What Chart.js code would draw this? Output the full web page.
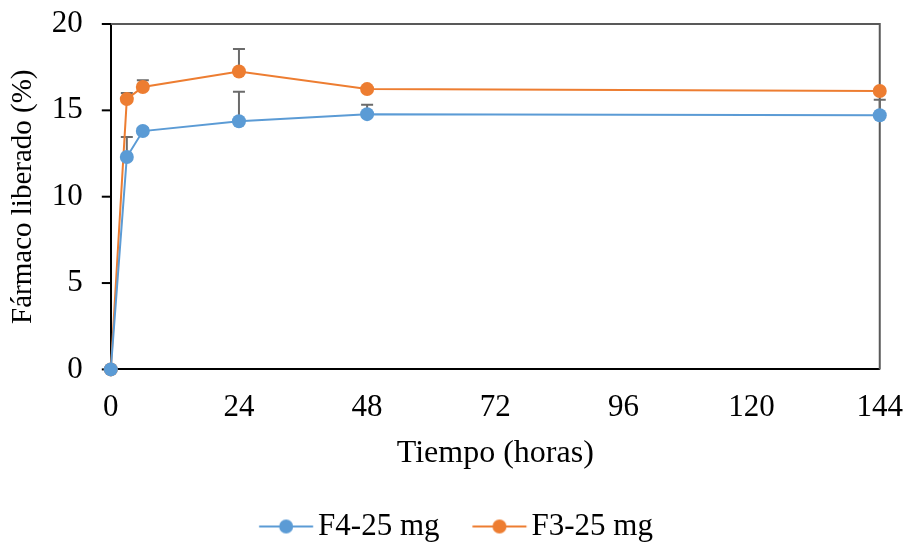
<!DOCTYPE html>
<html>
<head>
<meta charset="utf-8">
<script src="https://cdn.jsdelivr.net/npm/chart.js@4"></script>
<style>
  html, body { margin: 0; padding: 0; background: #fff; }
  #wrap { width: 906px; height: 544px; }
</style>
</head>
<body>
<div id="wrap"><canvas id="graficoLiberacion" width="906" height="544"></canvas></div>
<script>
// ======== DATOS ========
const tiempos = [0, 3, 6, 24, 48, 144];
const f4Valores = [0, 12.3, 13.8, 14.37, 14.78, 14.72];
const f4Errores = [0, 1.15, 0.15, 1.7, 0.55, 0.9];
const f3Valores = [0, 15.65, 16.35, 17.25, 16.23, 16.12];
const f3Errores = [0, 0.35, 0.4, 1.3, 0.1, 0.1];
const ticksX = [0, 24, 48, 72, 96, 120, 144];

const AZUL = "#5B9BD5";
const NARANJA = "#ED7D31";
const FUENTE = "'Liberation Serif', 'Times New Roman', serif";
const TAM = 31;

// icono de leyenda: línea con marcador (desplazado para acercarlo al texto)
function iconoLeyenda(color) {
    const c = document.createElement("canvas");
    c.width = 70; c.height = 16;
    const ctx = c.getContext("2d");
    const o = 13.25;
    ctx.strokeStyle = color;
    ctx.lineWidth = 2;
    ctx.beginPath();
    ctx.moveTo(o, 8); ctx.lineTo(o + 54, 8);
    ctx.stroke();
    ctx.fillStyle = color;
    ctx.beginPath();
    ctx.arc(o + 27, 8, 7, 0, Math.PI * 2);
    ctx.fill();
    return c;
}

// barras de error (solo hacia arriba), marco del área y marcas del eje Y
const pluginExtras = {
    id: "extras",
    beforeDatasetsDraw(chart) {
        const ctx = chart.ctx;
        const a = chart.chartArea;
        const x = chart.scales.x, y = chart.scales.y;
        ctx.save();
        // marco superior y derecho
        ctx.strokeStyle = "#595959";
        ctx.lineWidth = 2;
        ctx.beginPath();
        ctx.moveTo(a.left, a.top); ctx.lineTo(a.right, a.top); ctx.lineTo(a.right, a.bottom);
        ctx.stroke();
        // marcas del eje Y (hacia fuera)
        ctx.strokeStyle = "#000";
        y.ticks.forEach(t => {
            const py = y.getPixelForValue(t.value);
            ctx.beginPath();
            ctx.moveTo(a.left - 9, py); ctx.lineTo(a.left, py);
            ctx.stroke();
        });
        // barras de error
        const series = [[f4Valores, f4Errores], [f3Valores, f3Errores]];
        ctx.strokeStyle = "#6b6b6b";
        series.forEach(([vals, errs]) => {
            tiempos.forEach((t, i) => {
                if (!errs[i]) return;
                const px = x.getPixelForValue(t);
                const y0 = y.getPixelForValue(vals[i]);
                const y1 = y.getPixelForValue(vals[i] + errs[i]);
                ctx.beginPath();
                ctx.moveTo(px, y0); ctx.lineTo(px, y1);
                ctx.moveTo(px - 6, y1); ctx.lineTo(px + 6, y1);
                ctx.stroke();
            });
        });
        ctx.restore();
    }
};

const puntos = (vals) => tiempos.map((t, i) => ({ x: t, y: vals[i] }));

new Chart(document.getElementById("graficoLiberacion"), {
    type: "line",
    data: {
        datasets: [{
            label: "F4-25 mg",
            data: puntos(f4Valores),
            borderColor: AZUL,
            backgroundColor: AZUL,
            borderWidth: 2,
            pointRadius: 7,
            pointHoverRadius: 7,
            pointBorderWidth: 0,
            pointStyle: "circle",
            clip: false,
            tension: 0
        }, {
            label: "F3-25 mg",
            data: puntos(f3Valores),
            borderColor: NARANJA,
            backgroundColor: NARANJA,
            borderWidth: 2,
            pointRadius: 7,
            pointHoverRadius: 7,
            pointBorderWidth: 0,
            pointStyle: "circle",
            clip: false,
            tension: 0
        }]
    },
    options: {
        responsive: false,
        animation: false,
        layout: { padding: { left: 6, right: 0, top: 24, bottom: -8 } },
        plugins: {
            tooltip: { enabled: false },
            legend: {
                position: "bottom",
                labels: {
                    usePointStyle: true,
                    pointStyleWidth: 43.5,
                    color: "#000",
                    font: { family: FUENTE, size: TAM },
                    padding: 33,
                    generateLabels(chart) {
                        return chart.data.datasets.map((ds, i) => ({
                            text: ds.label,
                            fillStyle: ds.borderColor,
                            strokeStyle: ds.borderColor,
                            pointStyle: iconoLeyenda(ds.borderColor),
                            lineWidth: 0,
                            datasetIndex: i,
                            fontColor: "#000"
                        }));
                    }
                }
            }
        },
        scales: {
            x: {
                type: "linear",
                min: 0,
                max: 144,
                afterBuildTicks(axis) { axis.ticks = ticksX.map(v => ({ value: v })); },
                grid: { display: true, drawOnChartArea: false, drawTicks: true, tickLength: 17, tickColor: "rgba(0,0,0,0)" },
                border: { color: "#000", width: 2 },
                ticks: { color: "#000", font: { family: FUENTE, size: TAM }, padding: 3, maxRotation: 0 },
                title: { display: true, text: "Tiempo (horas)", color: "#000", font: { family: FUENTE, size: 32 }, padding: { top: 5, bottom: 5 } }
            },
            y: {
                min: 0,
                max: 20,
                ticks: { stepSize: 5, color: "#000", font: { family: FUENTE, size: TAM }, padding: 0 },
                grid: { drawOnChartArea: false, drawTicks: true, tickLength: 28, tickColor: "rgba(0,0,0,0)" },
                border: { color: "#000", width: 2 },
                title: { display: true, text: "Fármaco liberado (%)", color: "#000", font: { family: FUENTE, size: 29 }, padding: { top: 0, bottom: 11 } }
            }
        }
    },
    plugins: [pluginExtras]
});
</script>
</body>
</html>
